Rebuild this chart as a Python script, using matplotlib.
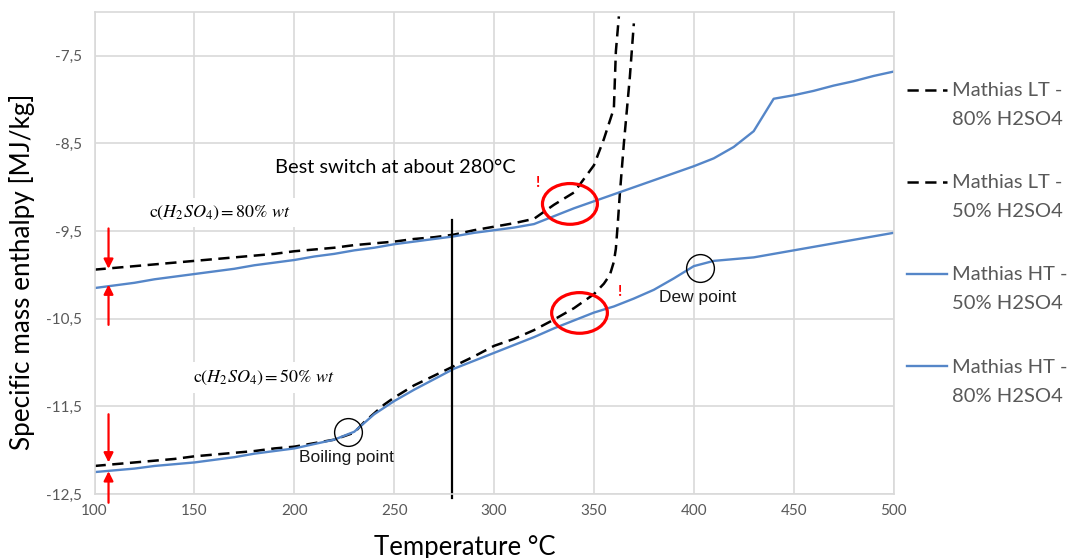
import numpy as np
import matplotlib
matplotlib.use('Agg')
import matplotlib.pyplot as plt
from matplotlib.patches import Ellipse
from matplotlib.legend_handler import HandlerLine2D
from matplotlib.ticker import FuncFormatter

# ---------------- data ----------------
lt80_t = [100, 110, 120, 130, 140, 150, 160, 170, 180, 190, 200, 210, 220, 230, 240,
          250, 260, 270, 280, 290, 300, 310, 320, 330, 340, 350, 355, 360, 361, 362.5]
lt80_h = [-9.94, -9.92, -9.90, -9.88, -9.86, -9.84, -9.82, -9.80, -9.78, -9.76, -9.73,
          -9.71, -9.69, -9.66, -9.64, -9.62, -9.59, -9.57, -9.54, -9.49, -9.45, -9.41,
          -9.36, -9.20, -9.06, -8.75, -8.45, -8.10, -7.45, -7.05]

lt50_t = [100, 110, 120, 130, 140, 150, 160, 170, 180, 190, 200, 210, 220, 230, 235,
          240, 245, 250, 260, 270, 280, 290, 300, 310, 320, 330, 340, 350, 355, 358,
          360, 361, 362, 363, 365, 368, 370]
lt50_h = [-12.18, -12.16, -12.14, -12.12, -12.10, -12.07, -12.05, -12.03, -12.01, -11.98,
          -11.96, -11.92, -11.88, -11.80, -11.68, -11.58, -11.48, -11.40, -11.26, -11.15,
          -11.04, -10.93, -10.81, -10.73, -10.63, -10.51, -10.38, -10.22, -10.10, -10.00,
          -9.85, -9.70, -9.40, -9.07, -8.50, -7.74, -7.13]

ht50_t = [100, 110, 120, 130, 140, 150, 160, 170, 180, 190, 200, 210, 220, 230, 240,
          250, 260, 270, 280, 290, 300, 310, 320, 330, 340, 350, 360, 370, 380, 390,
          400, 410, 420, 430, 440, 450, 460, 470, 480, 490, 500]
ht50_h = [-12.25, -12.23, -12.21, -12.18, -12.16, -12.14, -12.11, -12.08, -12.04, -12.01,
          -11.98, -11.93, -11.88, -11.79, -11.59, -11.44, -11.31, -11.19, -11.07, -10.98,
          -10.89, -10.80, -10.71, -10.61, -10.52, -10.43, -10.36, -10.27, -10.17, -10.04,
          -9.90, -9.84, -9.82, -9.80, -9.76, -9.72, -9.68, -9.64, -9.60, -9.56, -9.52]

ht80_t = [100, 110, 120, 130, 140, 150, 160, 170, 180, 190, 200, 210, 220, 230, 240,
          250, 260, 270, 280, 290, 300, 310, 320, 330, 340, 350, 360, 370, 380, 390,
          400, 410, 420, 430, 440, 450, 460, 470, 480, 490, 500]
ht80_h = [-10.15, -10.12, -10.09, -10.05, -10.02, -9.99, -9.96, -9.93, -9.89, -9.86,
          -9.83, -9.79, -9.76, -9.72, -9.69, -9.65, -9.62, -9.59, -9.56, -9.52, -9.49,
          -9.46, -9.42, -9.33, -9.24, -9.16, -9.08, -9.00, -8.92, -8.84, -8.76, -8.67,
          -8.54, -8.36, -7.99, -7.95, -7.90, -7.84, -7.79, -7.73, -7.68]

legend_labels = ["Mathias LT -\n80% H2SO4", "Mathias LT -\n50% H2SO4",
                 "Mathias HT -\n50% H2SO4", "Mathias HT -\n80% H2SO4"]
x_ticks = [100, 150, 200, 250, 300, 350, 400, 450, 500]
y_ticks = [-12.5, -11.5, -10.5, -9.5, -8.5, -7.5]

# ---------------- style ----------------
BLUE = '#5586C8'
GRID = '#d9d9d9'
TICKC = '#595959'
FONT = ['Lato', 'DejaVu Sans']
plt.rcParams['font.family'] = FONT
plt.rcParams['mathtext.fontset'] = 'stix'

fig = plt.figure(figsize=(10.72, 5.58), dpi=100)
ax = fig.add_axes([0.0882, 0.1147, 0.7453, 0.8638])

dash = (0, (4.5, 2.6))
l1, = ax.plot(lt80_t, lt80_h, color='black', lw=1.8, ls=dash)
l2, = ax.plot(lt50_t, lt50_h, color='black', lw=1.8, ls=dash)
l3, = ax.plot(ht50_t, ht50_h, color=BLUE, lw=1.7)
l4, = ax.plot(ht80_t, ht80_h, color=BLUE, lw=1.7)

ax.set_xlim(100, 500)
ax.set_ylim(-12.5, -7.0)
ax.set_xticks(x_ticks)
ax.set_yticks(y_ticks)
ax.xaxis.set_major_formatter(FuncFormatter(lambda v, p: f"{v:.0f}"))
ax.yaxis.set_major_formatter(FuncFormatter(lambda v, p: f"{v:.1f}".replace('.', ',')))
ax.grid(True, color=GRID, lw=1.2)
ax.set_axisbelow(True)
for s in ax.spines.values():
    s.set_color(GRID)
    s.set_linewidth(1.2)
ax.tick_params(length=0, labelsize=11, labelcolor=TICKC)
ax.tick_params(axis='y', pad=9)
ax.tick_params(axis='x', pad=7)

ax.set_xlabel('Temperature °C', fontsize=18.5)
ax.xaxis.set_label_coords(0.4636, -0.085)
ax.set_ylabel('Specific mass enthalpy [MJ/kg]', fontsize=18.8)
ax.yaxis.set_label_coords(-0.0746, 0.46)

# ---------------- annotations ----------------
ax.plot([279, 279], [-12.55, -9.37], color='black', lw=1.6, clip_on=False)
ax.text(190.3, -8.77, 'Best switch at about 280°C', fontsize=14.4, va='center', ha='left')

ax.text(127.5, -9.29, r'$\mathrm{c}(H_2SO_4)\mathrm{=80\%}\ wt$', fontsize=13,
        va='center', ha='left',
        bbox=dict(facecolor='white', edgecolor='none', pad=4))
ax.text(149.5, -11.17, r'$\mathrm{c}(H_2SO_4)\mathrm{=50\%}\ wt$', fontsize=13,
        va='center', ha='left',
        bbox=dict(facecolor='white', edgecolor='none', pad=4))

arrow = dict(arrowstyle='-|>', color='red', lw=1.6, mutation_scale=14, shrinkA=0, shrinkB=0)
for y0, y1 in [(-9.47, -9.93), (-10.57, -10.11), (-11.59, -12.14), (-12.60, -12.24)]:
    ax.annotate('', xy=(107, y1), xytext=(107, y0), arrowprops=arrow, annotation_clip=False)

ax.add_patch(Ellipse((338, -9.19), 27.5, 0.465, fill=False, ec='red', lw=2.3, zorder=5))
ax.add_patch(Ellipse((342.8, -10.434), 27.9, 0.464, fill=False, ec='red', lw=2.3, zorder=5))
ax.text(321.8, -8.95, '!', color='red', fontsize=11, ha='center', va='center', fontweight='bold')
ax.text(362.5, -10.19, '!', color='red', fontsize=11, ha='center', va='center', fontweight='bold')

ax.plot([227], [-11.79], 'o', ms=20, mfc='none', mec='black', mew=1.0, zorder=6)
ax.plot([403], [-9.917], 'o', ms=20, mfc='none', mec='black', mew=1.0, zorder=6)
ax.text(226.2, -12.08, 'Boiling point', family=['Liberation Sans'], fontsize=12.5,
        ha='center', va='center', color='#1a1a1a')
ax.text(401.7, -10.255, 'Dew point', family=['Liberation Sans'], fontsize=12.5,
        ha='center', va='center', color='#1a1a1a')

# ---------------- legend ----------------
class TopHandler(HandlerLine2D):
    def create_artists(self, legend, orig_handle, xdescent, ydescent, width, height,
                       fontsize, trans):
        arts = super().create_artists(legend, orig_handle, xdescent, ydescent, width,
                                      height, fontsize, trans)
        for a in arts:
            a.set_ydata(np.asarray(a.get_ydata(), dtype=float) + 0.75 * fontsize)
        return arts

hm = {h: TopHandler() for h in (l1, l2, l3, l4)}
leg = ax.legend([l1, l2, l3, l4], legend_labels, handler_map=hm,
                loc='upper left', bbox_to_anchor=(906.7 / 1072, 1 - 82 / 558),
                bbox_transform=fig.transFigure, frameon=False, fontsize=14.5,
                handlelength=2.0, handletextpad=0.25, labelspacing=2.3,
                borderpad=0, borderaxespad=0)
for t in leg.get_texts():
    t.set_color(TICKC)
    t.set_linespacing(1.85)

fig.savefig('out.png', dpi=100)
